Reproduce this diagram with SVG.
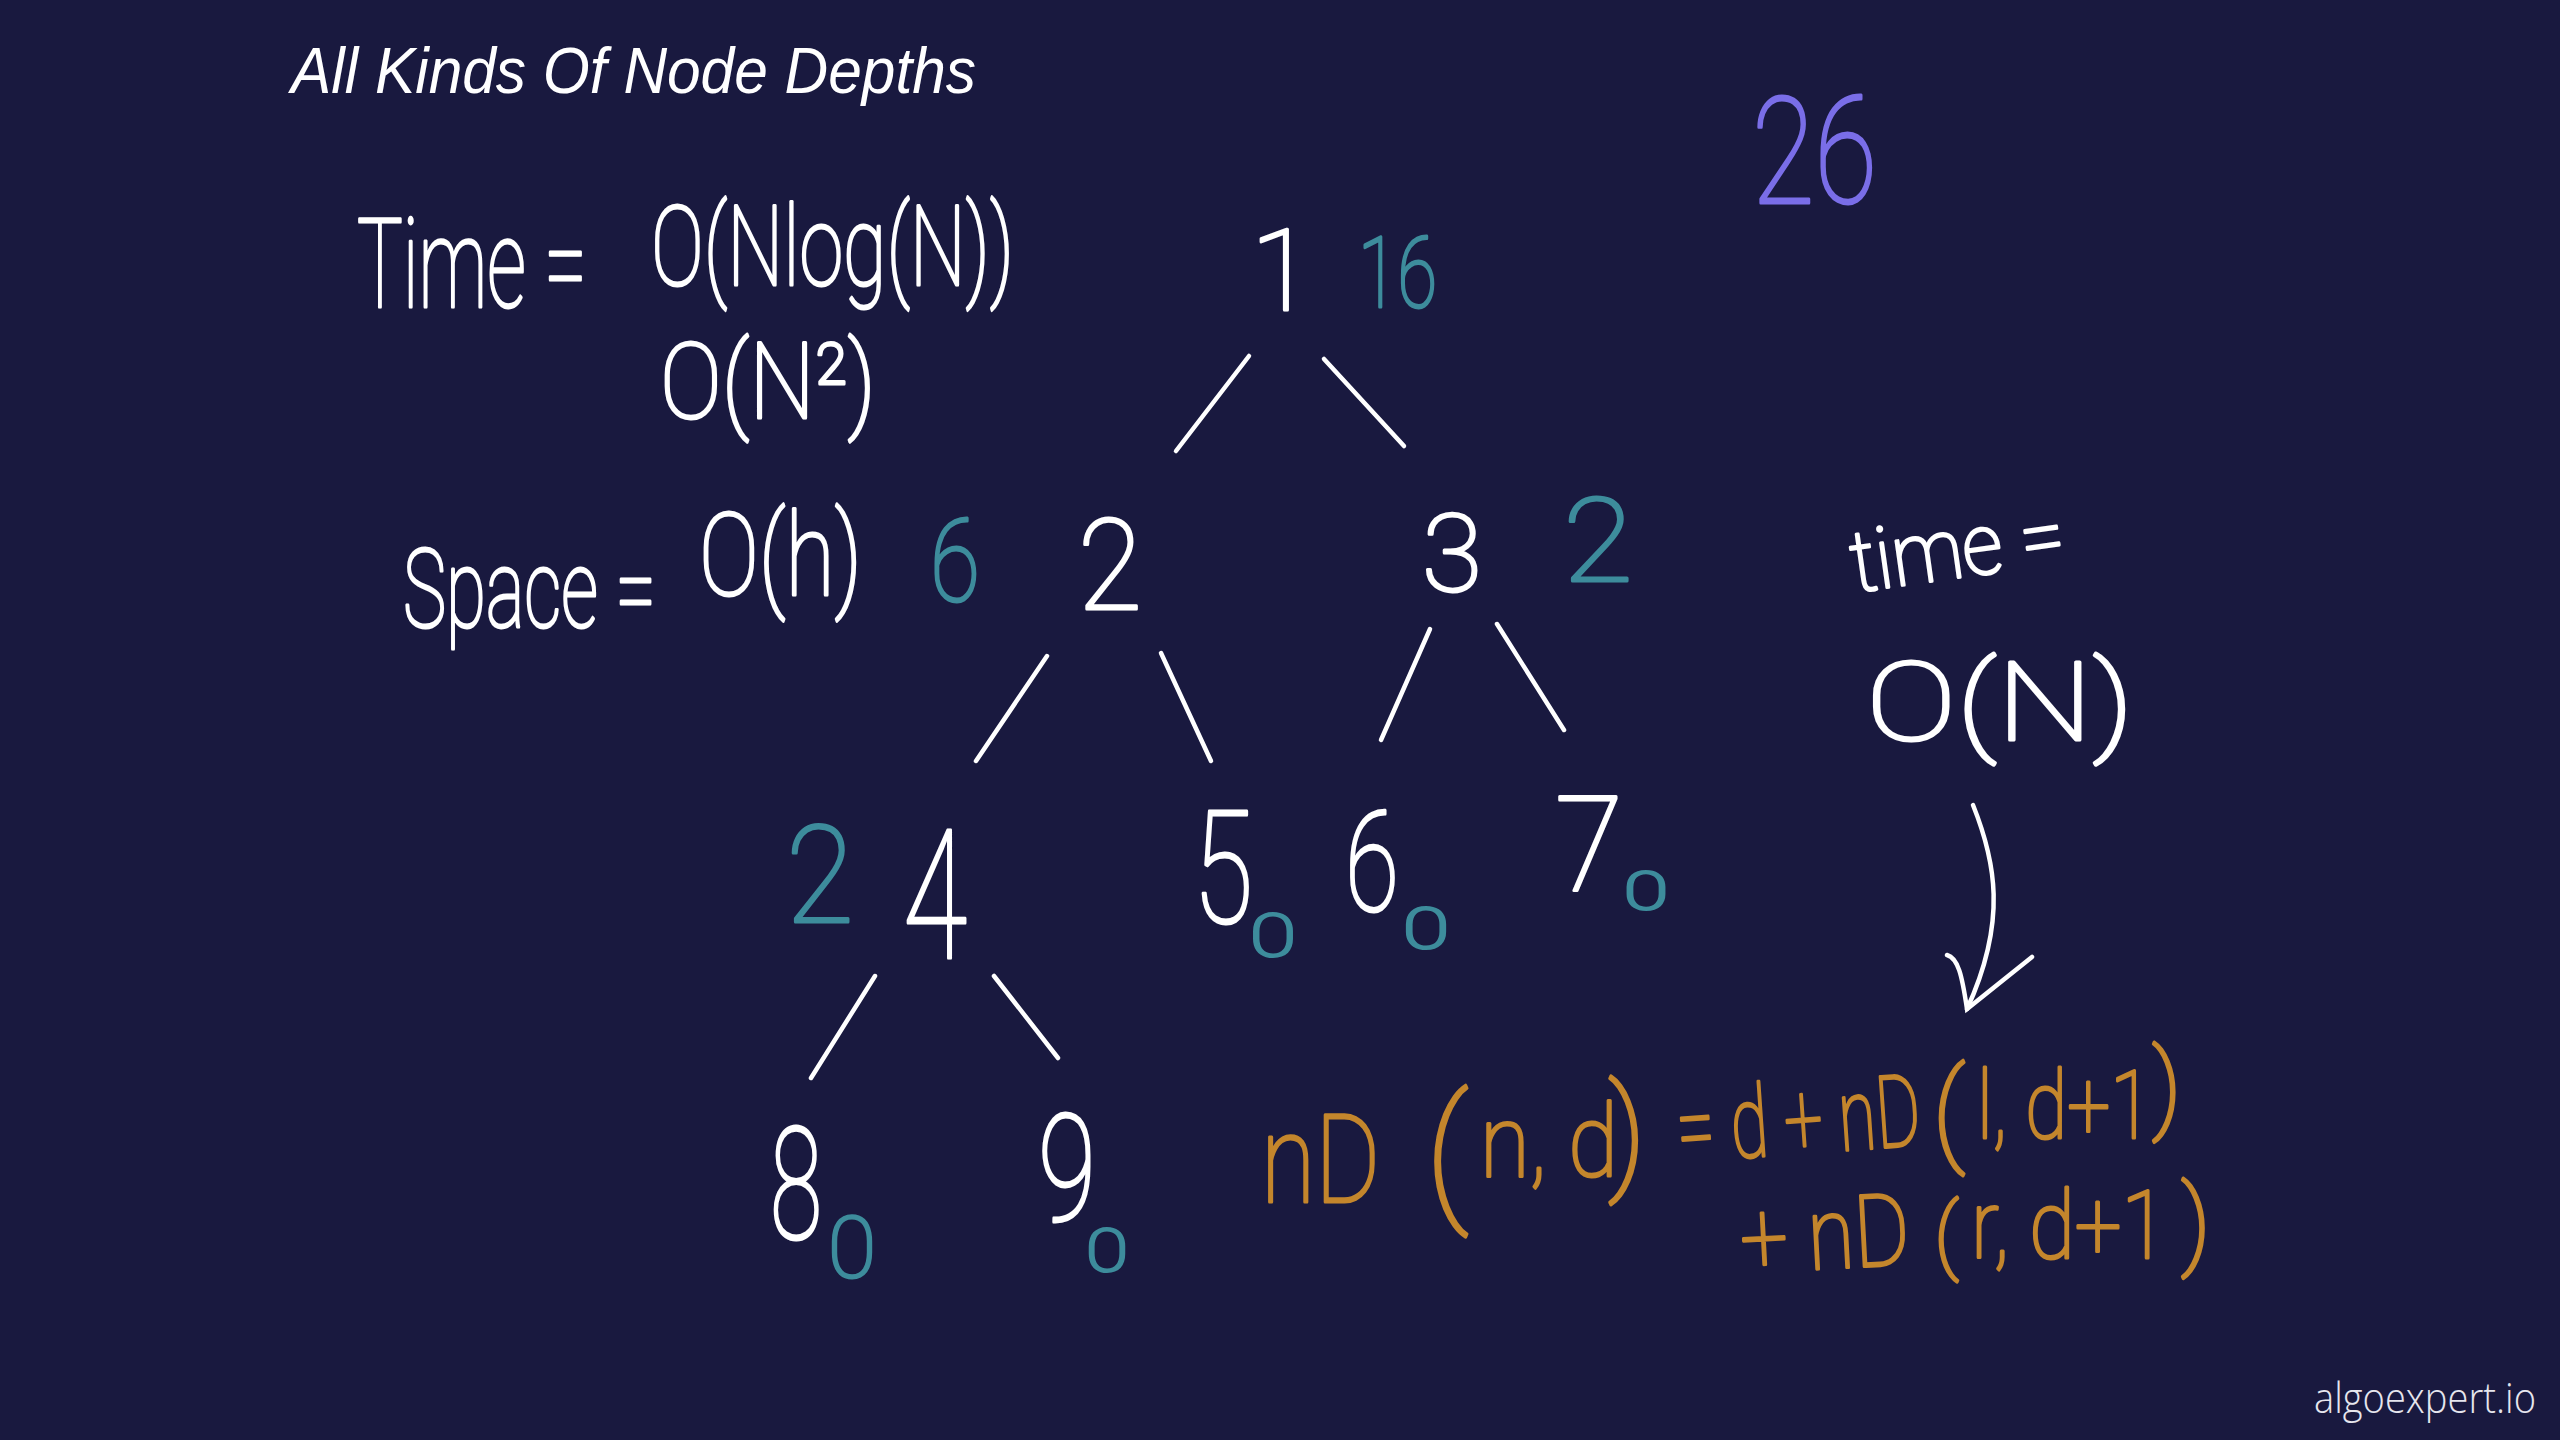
<svg xmlns="http://www.w3.org/2000/svg" width="2560" height="1440" viewBox="0 0 2560 1440">
<style>
.hw{font-family:Roboto,"Open Sans","DejaVu Sans",sans-serif;font-weight:100;stroke-width:3;stroke-linejoin:round;stroke-linecap:round}
.w{fill:#ffffff;stroke:#ffffff}
.t{fill:#3d8c9c;stroke:#3d8c9c}
.p{fill:#7a6ee8;stroke:#7a6ee8}
.o{fill:#c4862c;stroke:#c4862c}
.edge{stroke:#ffffff;stroke-width:4.5;stroke-linecap:round;fill:none}
</style>
<rect width="2560" height="1440" fill="#19193f"/>
<text id="title" x="291" y="93" font-family="'Liberation Sans',Arial,sans-serif" font-style="italic" font-size="64" fill="#ffffff" textLength="685" lengthAdjust="spacingAndGlyphs">All Kinds Of Node Depths</text>
<text id="watermark" x="2314" y="1413" font-family="'Open Sans',Roboto,sans-serif" font-weight="300" font-size="43" fill="#e6e6ee" textLength="222" lengthAdjust="spacingAndGlyphs">algoexpert.io</text>

<g id="complexity-left">
<text class="hw w" x="357" y="307" font-size="125" textLength="230" lengthAdjust="spacingAndGlyphs">Time =</text>
<text class="hw w" x="651" y="285" font-size="112" textLength="363" lengthAdjust="spacingAndGlyphs">O(Nlog(N))</text>
<text class="hw w" x="660" y="418" font-size="105" textLength="216" lengthAdjust="spacingAndGlyphs">O(N²)</text>
<text class="hw w" x="403" y="627" font-size="110" textLength="253" lengthAdjust="spacingAndGlyphs">Space =</text>
<text class="hw w" x="699" y="595" font-size="115" textLength="163" lengthAdjust="spacingAndGlyphs">O(h)</text>
</g>

<g id="sum-total">
<text class="hw p" x="1752" y="203" font-size="148" textLength="125" lengthAdjust="spacingAndGlyphs">26</text>
</g>

<g id="complexity-right">
<text class="hw w" x="1855" y="592" font-size="85" textLength="215" lengthAdjust="spacingAndGlyphs" transform="rotate(-8 1855 592)">time =</text>
<text class="hw w" x="1866" y="740" font-size="110" textLength="268" lengthAdjust="spacingAndGlyphs">O(N)</text>
</g>

<g id="connectors">
<line class="edge" x1="1249" y1="356" x2="1176" y2="451"/>
<line class="edge" x1="1324" y1="359" x2="1404" y2="446"/>
<line class="edge" x1="1047" y1="656" x2="976" y2="761"/>
<line class="edge" x1="1161" y1="653" x2="1211" y2="761"/>
<line class="edge" x1="1430" y1="629" x2="1381" y2="740"/>
<line class="edge" x1="1497" y1="624" x2="1564" y2="730"/>
<line class="edge" x1="875" y1="976" x2="811" y2="1078"/>
<line class="edge" x1="994" y1="976" x2="1058" y2="1058"/>
<path class="edge" d="M1973 805 C1995 860 2008 920 1967 1009"/>
<path class="edge" d="M1947 955 C1958 958 1962 975 1967 1009 L2032 957"/>
</g>

<g id="node-1">
<text class="hw w" x="1282" y="310" font-size="114" text-anchor="middle">1</text>
<text class="hw t" x="1358" y="307" font-size="98" textLength="79" lengthAdjust="spacingAndGlyphs">16</text>
</g>
<g id="node-2">
<text class="hw w" x="1078" y="609" font-size="127" textLength="64" lengthAdjust="spacingAndGlyphs">2</text>
<text class="hw t" x="930" y="601" font-size="115" textLength="50" lengthAdjust="spacingAndGlyphs">6</text>
</g>
<g id="node-3">
<text class="hw w" x="1422" y="591" font-size="108" textLength="60" lengthAdjust="spacingAndGlyphs">3</text>
<text class="hw t" x="1563" y="581" font-size="117" textLength="70" lengthAdjust="spacingAndGlyphs">2</text>
</g>
<g id="node-4">
<text class="hw w" x="903" y="958" font-size="180" textLength="64" lengthAdjust="spacingAndGlyphs">4</text>
<text class="hw t" x="786" y="922" font-size="136" textLength="68" lengthAdjust="spacingAndGlyphs">2</text>
</g>
<g id="node-5">
<text class="hw w" x="1193" y="922" font-size="156" textLength="60" lengthAdjust="spacingAndGlyphs">5</text>
<text class="hw t" x="1250" y="956" font-size="60" textLength="46" lengthAdjust="spacingAndGlyphs">0</text>
</g>
<g id="node-6">
<text class="hw w" x="1345" y="911" font-size="140" textLength="54" lengthAdjust="spacingAndGlyphs">6</text>
<text class="hw t" x="1403" y="948" font-size="56" textLength="46" lengthAdjust="spacingAndGlyphs">0</text>
</g>
<g id="node-7">
<text class="hw w" x="1555" y="890" font-size="131" textLength="68" lengthAdjust="spacingAndGlyphs">7</text>
<text class="hw t" x="1624" y="909" font-size="52" textLength="44" lengthAdjust="spacingAndGlyphs">0</text>
</g>
<g id="node-8">
<text class="hw w" x="770" y="1238" font-size="156" textLength="52" lengthAdjust="spacingAndGlyphs">8</text>
<text class="hw t" x="828" y="1277" font-size="86" textLength="48" lengthAdjust="spacingAndGlyphs">0</text>
</g>
<g id="node-9">
<text class="hw w" x="1038" y="1221" font-size="149" textLength="58" lengthAdjust="spacingAndGlyphs">9</text>
<text class="hw t" x="1086" y="1271" font-size="60" textLength="42" lengthAdjust="spacingAndGlyphs">0</text>
</g>

<g id="recurrence">
<text class="hw o" x="1261" y="1202" font-size="122" textLength="119" lengthAdjust="spacingAndGlyphs">nD</text>
<text class="hw o" x="1425" y="1203" font-size="148">(</text>
<text class="hw o" x="1480" y="1176" font-size="100" textLength="138" lengthAdjust="spacingAndGlyphs">n, d</text>
<text class="hw o" x="1608" y="1176" font-size="127">)</text>
<text class="hw o" x="1679" y="1162" font-size="100" textLength="244" lengthAdjust="spacingAndGlyphs" transform="rotate(-4 1679 1162)">= d + nD</text>
<text class="hw o" x="1932" y="1150" font-size="113">(</text>
<text class="hw o" x="1977" y="1138" font-size="95" textLength="175" lengthAdjust="spacingAndGlyphs">l, d+1</text>
<text class="hw o" x="2152" y="1120" font-size="98">)</text>
<text class="hw o" x="1742" y="1273" font-size="100" textLength="169" lengthAdjust="spacingAndGlyphs" transform="rotate(-3 1742 1273)">+ nD</text>
<text class="hw o" x="1934" y="1263" font-size="84">(</text>
<text class="hw o" x="1971" y="1258" font-size="95" textLength="196" lengthAdjust="spacingAndGlyphs">r, d+1</text>
<text class="hw o" x="2181" y="1256" font-size="99">)</text>
</g>
</svg>
